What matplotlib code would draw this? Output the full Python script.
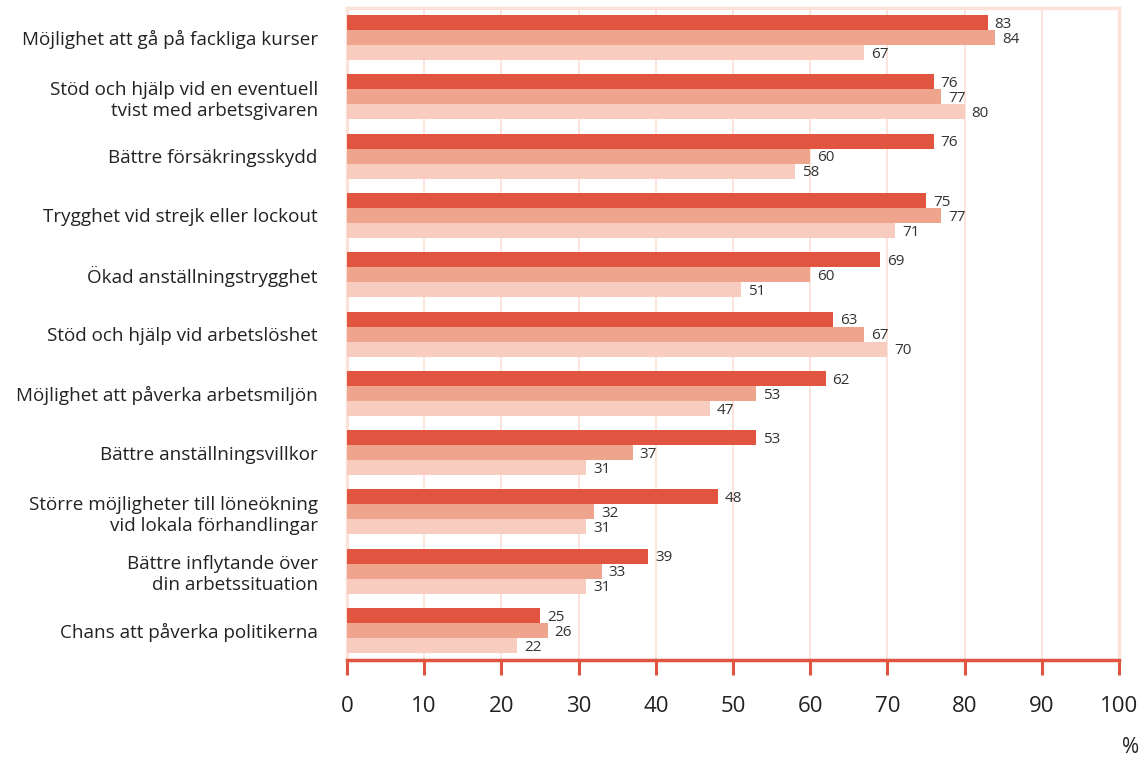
import matplotlib.pyplot as plt
import numpy as np

plt.rcParams['font.family'] = ['Open Sans', 'DejaVu Sans']

# data
categories = [
    'Möjlighet att gå på fackliga kurser',
    'Stöd och hjälp vid en eventuell\ntvist med arbetsgivaren',
    'Bättre försäkringsskydd',
    'Trygghet vid strejk eller lockout',
    'Ökad anställningstrygghet',
    'Stöd och hjälp vid arbetslöshet',
    'Möjlighet att påverka arbetsmiljön',
    'Bättre anställningsvillkor',
    'Större möjligheter till löneökning\nvid lokala förhandlingar',
    'Bättre inflytande över\ndin arbetssituation',
    'Chans att påverka politikerna',
]
series_a = [83, 76, 76, 75, 69, 63, 62, 53, 48, 39, 25]
series_b = [84, 77, 60, 77, 60, 67, 53, 37, 32, 33, 26]
series_c = [67, 80, 58, 71, 51, 70, 47, 31, 31, 31, 22]
x_ticks = [0, 10, 20, 30, 40, 50, 60, 70, 80, 90, 100]

colors = ['#E05440', '#EFA58D', '#F8CDBF']
pale = '#FCE2D9'
red = '#E05440'

fig = plt.figure(figsize=(11.47, 7.58), dpi=100)
ax = fig.add_axes([0.3025, 0.1293, 0.6731, 0.8601])

y = np.arange(len(categories))
h = 0.253
for k, (vals, c) in enumerate(zip([series_a, series_b, series_c], colors)):
    pos = y + (k - 1) * h
    ax.barh(pos, vals, height=h, color=c, zorder=3)
    for p, v in zip(pos, vals):
        ax.text(v + 0.9, p + 0.03, str(v), va='center', ha='left',
                fontsize=11, color='#333333', zorder=4)

ax.set_xlim(0, 100)
ax.set_ylim(len(categories) - 0.5, -0.5)
ax.set_yticks(y)
ax.set_yticklabels(categories, fontsize=13.6, color='#222222',
                   ha='right', multialignment='right', linespacing=1.2)
ax.tick_params(axis='y', length=0, pad=21)

ax.set_xticks(x_ticks)
ax.set_xticklabels([str(t) for t in x_ticks], fontsize=16, color='#222222')
ax.tick_params(axis='x', direction='out', length=11, width=2.2,
               color=red, pad=15)

for t in x_ticks[1:-1]:
    ax.axvline(t, color=pale, lw=1.3, zorder=1)

for s in ['top', 'left', 'right']:
    ax.spines[s].set_color(pale)
    ax.spines[s].set_linewidth(2.5)
ax.spines['bottom'].set_color(red)
ax.spines['bottom'].set_linewidth(2.5)

fig.text(0.986, 0.0, '%', fontsize=15, color='#222222',
         ha='center', va='bottom')

fig.savefig('out.png', dpi=100)
